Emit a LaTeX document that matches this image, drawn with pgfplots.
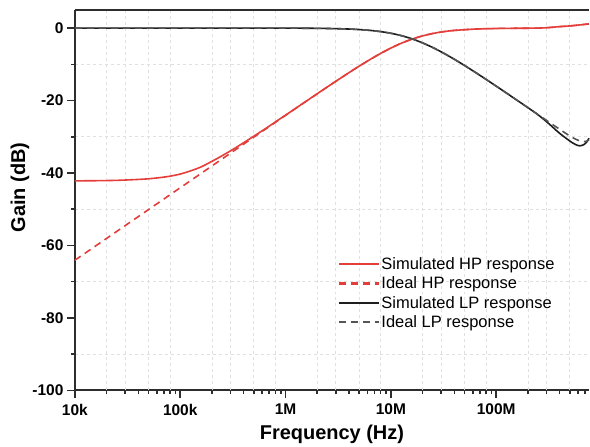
\documentclass[border=0pt]{standalone}
\usepackage{fontspec}
\setmainfont{Liberation Sans}
\usepackage{pgfplots}
\pgfplotsset{compat=1.18}
\definecolor{hpred}{RGB}{228,62,58}
\definecolor{lpblack}{RGB}{30,30,30}
\definecolor{lpgray}{RGB}{85,85,85}
\definecolor{axisgray}{RGB}{45,45,45}
\tikzset{
  hpsim/.style={hpred, line width=1.6pt},
  hpideal/.style={hpred, line width=1.6pt, dash pattern=on 7pt off 5pt},
  lpsim/.style={lpblack, line width=1.6pt},
  lpideal/.style={lpgray, line width=1.6pt, dash pattern=on 7pt off 5pt},
}
\begin{document}
\begin{tikzpicture}
\begin{axis}[
  at={(0,0)}, anchor=south west, scale only axis,
  width=515pt, height=381pt,
  xmode=log, xmin=1e4, xmax=7.6e8, ymin=-100, ymax=5,
  clip=false,
  axis x line*=bottom, axis y line*=left,
  axis line style={line width=2pt, draw=axisgray},
  xtick={1e4,1e5,1e6,1e7,1e8}, xticklabels={10k,100k,1M,10M,100M},
  minor xtick={2e4,3e4,4e4,5e4,6e4,7e4,8e4,9e4,2e5,3e5,4e5,5e5,6e5,7e5,8e5,9e5,2e6,3e6,4e6,5e6,6e6,7e6,8e6,9e6,2e7,3e7,4e7,5e7,6e7,7e7,8e7,9e7,2e8,3e8,4e8,5e8,6e8,7e8},
  ytick={-100,-80,-60,-40,-20,0}, yticklabels={-100,-80,-60,-40,-20,0},
  minor ytick={-90,-70,-50,-30,-10},
  tick align=outside, major tick length=8pt, minor tick length=4pt,
  every tick/.style={line width=1.6pt, draw=axisgray},
  yminorgrids, minor grid style={dashed, black!12, line width=0.8pt},
  extra x ticks={2e4,3e4,5e4,8e4,2e5,3e5,5e5,8e5,2e6,3e6,5e6,8e6,2e7,3e7,5e7,8e7,2e8,3e8,5e8},
  extra x tick labels={},
  extra x tick style={major tick length=0pt, xmajorgrids, major grid style={dashed, black!12, line width=0.8pt}},
  tick label style={font=\bfseries\fontsize{15.5}{17}\selectfont},
  xticklabel style={yshift=-2pt},
  xlabel={Frequency (Hz)}, ylabel={Gain (dB)},
  label style={font=\bfseries\fontsize{20}{23}\selectfont},
  x label style={at={(axis description cs:0.5,0)}, anchor=center, yshift=-44pt},
  y label style={at={([xshift=-55pt]axis description cs:0,0.533)}, anchor=center},
  legend style={at={(0.511,0.354)}, anchor=north west, draw=none, fill=none,
    font=\fontsize{16.5}{18}\selectfont, row sep=3pt, inner sep=0pt,
    nodes={inner sep=1.5pt}},
  legend cell align=left,
  legend image code/.code={\draw[#1, line width=2.2pt] (0pt,0pt) -- (40pt,0pt);},
]
\addplot[hpsim, smooth, forget plot] coordinates {
(1e4,-42.17) (1.585e4,-42.13) (2.512e4,-42.03) (3.981e4,-41.78) (5.012e4,-41.6)
(6.310e4,-41.3) (7.943e4,-40.9) (1e5,-40.3) (1.259e5,-39.4) (1.585e5,-38.3)
(1.995e5,-36.8) (2.512e5,-35.2) (3.162e5,-33.5) (3.981e5,-31.68) (5.012e5,-29.82)
(6.310e5,-27.92) (7.943e5,-25.98) (1e6,-24.03) (1.585e6,-20.10) (2.512e6,-16.18)
(3.981e6,-12.34) (5.012e6,-10.49) (6.310e6,-8.71) (7.943e6,-7.04) (1e7,-5.51)
(1.259e7,-4.17) (1.585e7,-3.05) (1.995e7,-2.16) (2.512e7,-1.48) (3.162e7,-0.99)
(3.981e7,-0.65) (6.310e7,-0.27) (1e8,-0.11) (1.585e8,-0.05) (2.512e8,0.0)
(3.162e8,0.15) (3.981e8,0.40) (5.012e8,0.60) (6.310e8,0.90) (7.6e8,1.15)
};
\addplot[hpideal, smooth, forget plot] coordinates {
(1e4,-64.08) (1e5,-44.08) (3.162e5,-34.08) (1e6,-24.10) (1.585e6,-20.12)
(2.512e6,-16.19) (3.981e6,-12.34) (5.012e6,-10.49) (6.310e6,-8.71) (7.943e6,-7.04)
(1e7,-5.51) (1.259e7,-4.17) (1.585e7,-3.05) (1.995e7,-2.16) (2.512e7,-1.48)
(3.162e7,-0.99) (3.981e7,-0.65) (6.310e7,-0.27) (1e8,-0.11) (1.585e8,-0.05)
(2.512e8,0.0) (3.162e8,0.15) (3.981e8,0.40) (5.012e8,0.60) (6.310e8,0.90) (7.6e8,1.15)
};
\addplot[lpsim, smooth, forget plot] coordinates {
(1e4,0) (1e5,0) (1e6,-0.02) (1.585e6,-0.04) (2.512e6,-0.11) (3.981e6,-0.26)
(5.012e6,-0.41) (6.310e6,-0.63) (7.943e6,-0.96) (1e7,-1.43) (1.259e7,-2.09)
(1.585e7,-2.97) (1.995e7,-4.08) (2.512e7,-5.40) (3.162e7,-6.91) (3.981e7,-8.57)
(5.012e7,-10.34) (6.310e7,-12.19) (7.943e7,-14.09) (1e8,-16.03) (1.259e8,-17.99)
(1.585e8,-19.97) (1.995e8,-21.95) (2.512e8,-24.0) (3.162e8,-26.4) (3.981e8,-29.0)
(5.012e8,-31.2) (5.623e8,-32.1) (6.166e8,-32.5) (6.761e8,-32.2) (7.244e8,-31.4) (7.6e8,-30.4)
};
\addplot[lpideal, smooth, forget plot] coordinates {
(1e4,0) (1e5,0) (1e6,-0.02) (1.585e6,-0.04) (2.512e6,-0.11) (3.981e6,-0.26)
(5.012e6,-0.41) (6.310e6,-0.63) (7.943e6,-0.96) (1e7,-1.43) (1.259e7,-2.09)
(1.585e7,-2.97) (1.995e7,-4.08) (2.512e7,-5.40) (3.162e7,-6.91) (3.981e7,-8.57)
(5.012e7,-10.34) (6.310e7,-12.19) (7.943e7,-14.09) (1e8,-16.03) (1.259e8,-17.99)
(1.585e8,-19.97) (1.995e8,-21.95) (2.512e8,-23.94) (3.162e8,-25.93) (3.981e8,-27.9)
(5.012e8,-29.8) (5.623e8,-30.6) (6.310e8,-31.2) (7.079e8,-31.3) (7.6e8,-30.9)
};
\addlegendimage{hpsim}
\addlegendentry{Simulated HP response}
\addlegendimage{hpideal}
\addlegendentry{Ideal HP response}
\addlegendimage{lpsim}
\addlegendentry{Simulated LP response}
\addlegendimage{lpideal}
\addlegendentry{Ideal LP response}
\draw[line width=2pt, axisgray] (rel axis cs:0,1) -- (rel axis cs:1,1);
\end{axis}
\path (-75pt,-56pt) rectangle (515pt,391pt);
\end{tikzpicture}
\end{document}
